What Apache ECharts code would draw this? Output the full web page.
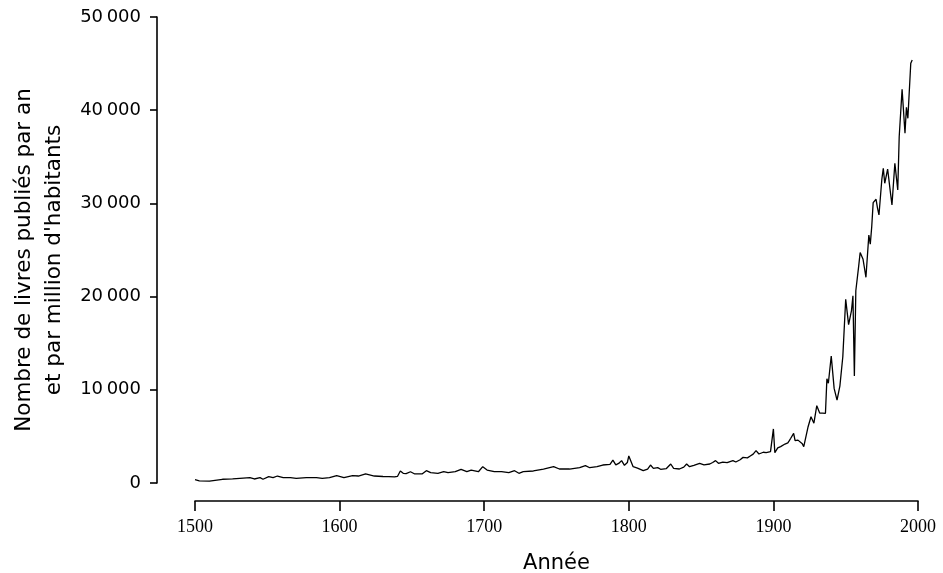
<!DOCTYPE html>
<html>
<head>
<meta charset="utf-8">
<script src="https://cdn.jsdelivr.net/npm/echarts@6/dist/echarts.min.js"></script>
<style>
  html, body { margin: 0; padding: 0; background: #fff; }
  #chart { width: 943px; height: 573px; }
</style>
</head>
<body>
<div id="chart"></div>
<script>
// années
var years = [
  1500, 1503, 1510, 1519, 1526, 1531, 1538, 1541, 1545, 1547, 1551, 1554, 1557, 1561, 1566,
  1570, 1577, 1584, 1588, 1593, 1598, 1603, 1609, 1613, 1618, 1624, 1630, 1634, 1638, 1640,
  1642, 1644, 1646, 1649, 1652, 1657, 1660, 1663, 1668, 1672, 1675, 1680, 1684, 1688, 1691,
  1696, 1699, 1702, 1707, 1712, 1717, 1721, 1724, 1727, 1734, 1741, 1748, 1752, 1759, 1766,
  1770, 1773, 1778, 1782, 1787, 1789, 1791, 1793, 1795, 1797, 1799, 1800, 1803, 1806, 1810,
  1813, 1815, 1817, 1820, 1822, 1826, 1829, 1831, 1835, 1838, 1840, 1842, 1845, 1849, 1852,
  1856, 1858, 1860, 1862, 1865, 1868, 1870, 1872, 1874, 1877, 1879, 1882, 1884, 1886, 1888,
  1890, 1893, 1895, 1898, 1899, 1900, 1901, 1903, 1905, 1908, 1910, 1911, 1912, 1914, 1915,
  1917, 1918, 1920, 1921, 1922, 1924, 1925, 1926, 1928, 1930, 1932, 1934, 1936, 1937, 1938,
  1940, 1942, 1944, 1946, 1948, 1949, 1950, 1952, 1954, 1955, 1956, 1957, 1958, 1959, 1960,
  1962, 1963, 1964, 1966, 1967, 1968, 1969, 1971, 1972, 1973, 1975, 1976, 1977, 1979, 1981,
  1982, 1984, 1986, 1987, 1988, 1989, 1991, 1992, 1993, 1995, 1996
]

// livres publiés par an et par million d'habitants
var books = [
  350, 220, 210, 400, 450, 500, 570, 430, 570, 400, 680, 570, 750, 570, 570,
  500, 570, 570, 500, 570, 790, 570, 790, 750, 970, 750, 700, 680, 650, 700,
  1290, 1040, 1000, 1210, 970, 970, 1320, 1110, 1040, 1210, 1110, 1210, 1470, 1210, 1390,
  1210, 1750, 1390, 1210, 1210, 1110, 1320, 1040, 1210, 1290, 1500, 1750, 1500, 1500, 1640,
  1860, 1640, 1750, 1930, 2000, 2450, 1950, 2100, 2400, 1900, 2200, 2900, 1750, 1600, 1320,
  1500, 1930, 1570, 1650, 1470, 1550, 2040, 1570, 1500, 1700, 2040, 1750, 1900, 2110, 1950,
  2040, 2200, 2400, 2110, 2250, 2180, 2300, 2400, 2250, 2500, 2750, 2700, 2900, 3100, 3470,
  3110, 3300, 3250, 3360, 3400, 5800, 3250, 3760, 3900, 4180, 4300, 4540, 4800, 5330, 4540,
  4600, 4430, 4200, 3900, 4000, 6040, 6200, 7110, 6420, 8300, 7500, 7500, 7480, 11180, 10700,
  13630, 10150, 8900, 10430, 13550, 13600, 19710, 17000, 18500, 20080, 11480, 20630, 20710, 23300, 24730,
  24000, 23040, 22070, 26610, 25630, 27500, 30080, 30440, 29500, 28760, 32590, 33770, 32160, 33690, 31080,
  29830, 34300, 31440, 37160, 36990, 42240, 37520, 40310, 39130, 45030, 45390
]

var xTicks = [1500, 1600, 1700, 1800, 1900, 2000]
var yTicks = [0, 10000, 20000, 30000, 40000, 50000]

var chart = echarts.init(document.getElementById('chart'))

var points = years.map(function (y, i) { return [y, books[i]] })

function thousands(v) {
  if (v < 1000) return String(v)
  return Math.floor(v / 1000) + '\u2009' + String(v % 1000).padStart(3, '0')
}

chart.setOption({
  animation: false,
  backgroundColor: '#fff',
  grid: {
    left: 195,
    right: 25,
    top: 17,
    bottom: 90,
    containLabel: false,
    outerBoundsMode: 'none'
  },
  xAxis: {
    type: 'value',
    min: xTicks[0],
    max: xTicks[xTicks.length - 1],
    interval: 100,
    offset: 18,
    name: 'Année',
    nameLocation: 'middle',
    nameGap: 52,
    nameTextStyle: { color: '#000', fontFamily: 'DejaVu Sans', fontSize: 21 },
    axisLine: { show: true, onZero: false, lineStyle: { color: '#000', width: 1.6 } },
    axisTick: { show: true, length: 10, lineStyle: { color: '#000', width: 1.6 } },
    axisLabel: {
      color: '#000',
      fontFamily: 'Liberation Serif',
      fontSize: 18,
      margin: 17,
      formatter: function (v) { return String(v) }
    },
    splitLine: { show: false }
  },
  yAxis: {
    type: 'value',
    min: yTicks[0],
    max: yTicks[yTicks.length - 1],
    interval: 10000,
    offset: 38,
    name: 'Nombre de livres publiés par an\net par million d\'habitants',
    nameLocation: 'middle',
    nameRotate: 90,
    nameGap: 78,
    nameTextStyle: {
      color: '#000', fontFamily: 'DejaVu Sans', fontSize: 21.5, lineHeight: 30,
      padding: [0, 20, 0, 0]
    },
    axisLine: { show: true, onZero: false, lineStyle: { color: '#000', width: 1.6 } },
    axisTick: { show: true, length: 7, lineStyle: { color: '#000', width: 1.6 } },
    axisLabel: {
      color: '#000',
      fontFamily: 'DejaVu Sans',
      fontSize: 18,
      margin: 16,
      formatter: thousands
    },
    splitLine: { show: false }
  },
  series: [{
    type: 'line',
    data: points,
    showSymbol: false,
    symbol: 'none',
    lineStyle: { color: '#000', width: 1.3 }
  }]
})
</script>
</body>
</html>
